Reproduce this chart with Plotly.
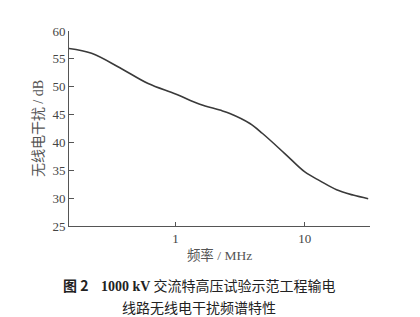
import plotly.graph_objects as go
import numpy as np

freq_mhz = [0.15, 0.224, 0.371, 0.614, 1.0, 1.54, 2.2, 2.63, 3.76, 4.71, 7.0, 10.0, 13.1, 17.6, 23.6, 30.9]
rfi_db = [56.85, 56.0, 53.4, 50.57, 48.7, 46.86, 45.8, 45.2, 43.4, 41.6, 38.0, 34.7, 33.1, 31.5, 30.55, 29.9]

x_ticks = [1, 10]
y_ticks = [25, 30, 35, 40, 45, 50, 55, 60]

axis_col = "#555555"
serif = "Liberation Serif, Times New Roman, serif"
cjk = "Noto Sans CJK SC, sans-serif"

fig = go.Figure()
fig.add_trace(go.Scatter(x=freq_mhz, y=rfi_db, mode="lines",
                         line=dict(color="#3a3a3a", width=1.6, shape="spline", smoothing=1.0),
                         showlegend=False))

fig.update_layout(
    width=420, height=317,
    margin=dict(l=69, r=50, t=31, b=91),
    paper_bgcolor="white", plot_bgcolor="white",
    font=dict(family=serif, color="#444444", size=13),
)
fig.update_xaxes(type="log", range=[np.log10(0.15), 1.504],
                 tickvals=x_ticks, ticktext=[str(t) for t in x_ticks],
                 ticks="inside", ticklen=4, tickcolor=axis_col,
                 showline=True, linecolor=axis_col, linewidth=1,
                 showgrid=False, zeroline=False,
                 title=dict(text="<span style='font-family:Noto Sans CJK SC'>频率</span> / MHz",
                            font=dict(size=13.5, color="#555555"), standoff=5))
fig.update_yaxes(range=[25, 60], tickvals=y_ticks,
                 ticks="inside", ticklen=5, tickcolor=axis_col,
                 showline=True, linecolor=axis_col, linewidth=1,
                 showgrid=False, zeroline=False,
                 title=dict(text="<span style='font-family:Noto Sans CJK SC'>无线电干扰</span> / dB",
                            font=dict(size=14, color="#555555"), standoff=5))

fig.add_annotation(text="<b>图 2</b>    <b><span style='font-family:Liberation Serif'>1000 kV</span></b> 交流特高压试验示范工程输电",
                   xref="paper", yref="paper", x=(199.5 - 69) / 301, y=-(285 - 225.7) / 195,
                   showarrow=False, font=dict(family=cjk, size=14, color="#222222"),
                   xanchor="center", yanchor="middle")
fig.add_annotation(text="线路无线电干扰频谱特性",
                   xref="paper", yref="paper", x=(198.5 - 69) / 301, y=-(306.5 - 225.7) / 195,
                   showarrow=False, font=dict(family=cjk, size=14, color="#222222"),
                   xanchor="center", yanchor="middle")

fig.write_html("out.html")
